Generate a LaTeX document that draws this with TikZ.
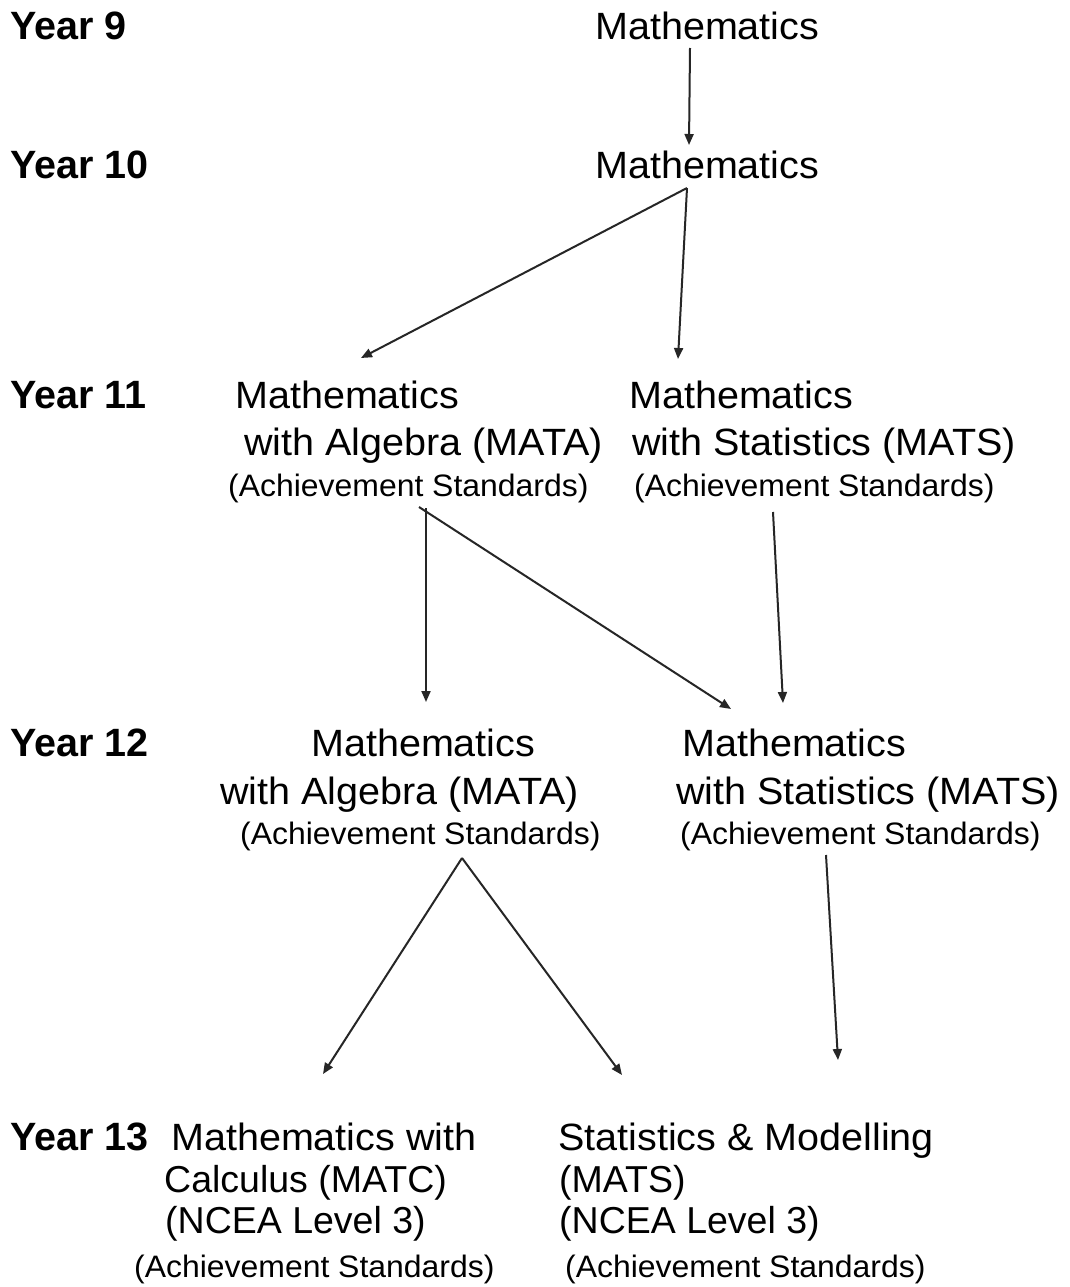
\documentclass[tikz,border=0pt]{standalone}
\usepackage{fontspec}
\setmainfont{Liberation Sans}
\newfontfamily\crsfont{Liberation Sans}[FakeStretch=1.04]
\newfontfamily\achfont{Liberation Sans}[FakeStretch=1.03]
\usetikzlibrary{arrows.meta}
\begin{document}
\begin{tikzpicture}[x=1pt,y=-1pt,
  yr/.style={anchor=base west,inner sep=0pt,font=\fontsize{39.5}{42}\selectfont\bfseries},
  crs/.style={anchor=base west,inner sep=0pt,font=\crsfont\fontsize{38}{40}\selectfont},
  crsn/.style={anchor=base west,inner sep=0pt,font=\fontsize{37.5}{40}\selectfont},
  ach/.style={anchor=base west,inner sep=0pt,font=\achfont\fontsize{31}{34}\selectfont},
  arr/.style={draw=black!85,line width=2pt,-{Triangle[length=11pt,width=9pt]}}]
\useasboundingbox[fill=white] (0,0) rectangle (1069,1287);
% year labels
\node[yr] (y9)  at (10,40)   {Year 9};
\node[yr] (y10) at (10,178)  {Year 10};
\node[yr] (y11) at (10,408)  {Year 11};
\node[yr] (y12) at (10,756)  {Year 12};
\node[yr] (y13) at (10,1150) {Year 13};
% year 9 / 10
\node[crs] (m9)  at (595,40)  {Mathematics};
\node[crs] (m10) at (595,178) {Mathematics};
% year 11 left
\node[crs] (a11a) at (235,408) {Mathematics};
\node[crs] (a11b) at (244,455) {with Algebra (MATA)};
\node[ach] (a11c) at (228,496) {(Achievement Standards)};
% year 11 right
\node[crs] (s11a) at (629,408) {Mathematics};
\node[crs] (s11b) at (632,455) {with Statistics (MATS)};
\node[ach] (s11c) at (634,496) {(Achievement Standards)};
% year 12 left
\node[crs] (a12a) at (311,756) {Mathematics};
\node[crs] (a12b) at (220,804) {with Algebra (MATA)};
\node[ach] (a12c) at (240,844) {(Achievement Standards)};
% year 12 right
\node[crs] (s12a) at (682,756) {Mathematics};
\node[crs] (s12b) at (676,804) {with Statistics (MATS)};
\node[ach] (s12c) at (680,844) {(Achievement Standards)};
% year 13 left
\node[crs] (c13a) at (171,1150) {Mathematics with};
\node[crsn] (c13b) at (164,1192) {Calculus (MATC)};
\node[crsn] (c13c) at (165,1233) {(NCEA Level 3)};
\node[ach] (c13d) at (134,1277) {(Achievement Standards)};
% year 13 right
\node[crs] (t13a) at (558,1150) {Statistics \& Modelling};
\node[crsn] (t13b) at (559,1192) {(MATS)};
\node[crsn] (t13c) at (559,1233) {(NCEA Level 3)};
\node[ach] (t13d) at (565,1277) {(Achievement Standards)};
% connector ends
\coordinate (p1s) at (690,48);   \coordinate (p1e) at (689,145);
\coordinate (p2s) at (687,188);  \coordinate (p2e) at (361,358);
\coordinate (p3e) at (678,359);
\coordinate (p4s) at (426,508);  \coordinate (p4e) at (426,702);
\coordinate (p5s) at (419,507);  \coordinate (p5e) at (731,709);
\coordinate (p6s) at (773,512);  \coordinate (p6e) at (783,703);
\coordinate (p7s) at (462,858);  \coordinate (p7e) at (323,1074);
\coordinate (p8e) at (622,1075);
\coordinate (p9s) at (826,855);  \coordinate (p9e) at (838,1060);
% connectors
\draw[arr] (p1s) -- (p1e);
\draw[arr] (p2s) -- (p2e);
\draw[arr] (p2s) -- (p3e);
\draw[arr] (p4s) -- (p4e);
\draw[arr] (p5s) -- (p5e);
\draw[arr] (p6s) -- (p6e);
\draw[arr] (p7s) -- (p7e);
\draw[arr] (p7s) -- (p8e);
\draw[arr] (p9s) -- (p9e);
\end{tikzpicture}
\end{document}
